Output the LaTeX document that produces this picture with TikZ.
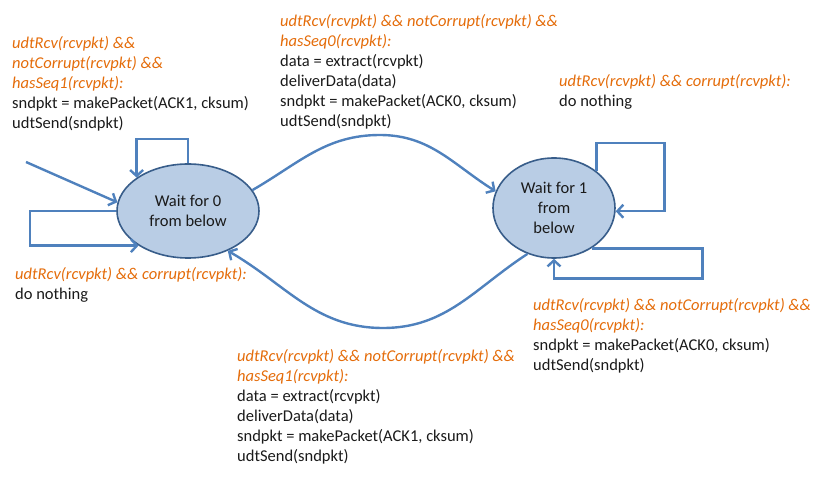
\documentclass[tikz,border=0pt]{standalone}
\usepackage{fontspec}
\setmainfont{Carlito}
\usetikzlibrary{shapes.geometric,arrows.meta,positioning}
\definecolor{guardorange}{HTML}{E46C0A}
\definecolor{statefill}{HTML}{B9CDE5}
\definecolor{stateedge}{HTML}{385D8A}
\definecolor{arrowblue}{HTML}{4F81BD}
\definecolor{txtgray}{HTML}{1A1A1A}
\newcommand{\guard}[1]{\textcolor{guardorange}{\textit{#1}}}

\begin{document}
\begin{tikzpicture}[x=1pt, y=1pt, font=\fontsize{16.5}{20}\selectfont]
        \tikzstyle{waitstate} = [ellipse, draw=stateedge, line width=1.6pt, fill=statefill, inner sep=0pt, align=center, text=txtgray]
        \tikzstyle{transtext} = [anchor=north west, inner sep=0pt, align=left, text=txtgray]
        \tikzstyle{line} = [draw=arrowblue, line width=2.4pt, -{Straight Barb[length=6pt,width=13pt]}]
    \useasboundingbox (0,0) rectangle (820,-478);

    \node [waitstate, minimum width=142pt, minimum height=94pt] (wait0) at (188,-211) {Wait for 0\\from below};
    \node [waitstate, minimum width=122pt, minimum height=100pt] (wait1) at (554,-208) {Wait for 1\\from\\below};

    \coordinate (init) at (26,-162);
    \coordinate (topbend) at (380,-135);
    \coordinate (botbend) at (383,-328);

    \path [line] (init) -- (wait0.173);
    \path [line] (wait0.north) -- ++(0,24) -| (wait0.147);
    \path [line] (wait0.west) -- ++(-86,0) |- (wait0.215);
    \path [line] (wait0.18) to[out=30,in=180] (topbend) to[out=0,in=148] (wait1.164);
    \path [line] (wait1.240) to[out=213,in=0] (botbend) to[out=180,in=-30] (wait0.315);
    \path [line] (wait1.41) |- ++(68,28) |- (wait1.-3);
    \path [line] (wait1.-47) -| ++(111,-30) -| (wait1.south);

    \node [transtext] (stay0ack) at (12,-36) {\guard{udtRcv(rcvpkt) \&\&}\\\guard{notCorrupt(rcvpkt) \&\&}\\\guard{hasSeq1(rcvpkt):}\\sndpkt = makePacket(ACK1, cksum)\\udtSend(sndpkt)};
    \node [transtext] (go1) at (280,-14) {\guard{udtRcv(rcvpkt) \&\& notCorrupt(rcvpkt) \&\&}\\\guard{hasSeq0(rcvpkt):}\\data = extract(rcvpkt)\\deliverData(data)\\sndpkt = makePacket(ACK0, cksum)\\udtSend(sndpkt)};
    \node [transtext] (stay1bad) at (559,-74) {\guard{udtRcv(rcvpkt) \&\& corrupt(rcvpkt):}\\do nothing};
    \node [transtext] (stay0bad) at (15,-267) {\guard{udtRcv(rcvpkt) \&\& corrupt(rcvpkt):}\\do nothing};
    \node [transtext] (stay1ack) at (533,-298) {\guard{udtRcv(rcvpkt) \&\& notCorrupt(rcvpkt) \&\&}\\\guard{hasSeq0(rcvpkt):}\\sndpkt = makePacket(ACK0, cksum)\\udtSend(sndpkt)};
    \node [transtext] (go0) at (237,-349) {\guard{udtRcv(rcvpkt) \&\& notCorrupt(rcvpkt) \&\&}\\\guard{hasSeq1(rcvpkt):}\\data = extract(rcvpkt)\\deliverData(data)\\sndpkt = makePacket(ACK1, cksum)\\udtSend(sndpkt)};
    \end{tikzpicture}
\end{document}
